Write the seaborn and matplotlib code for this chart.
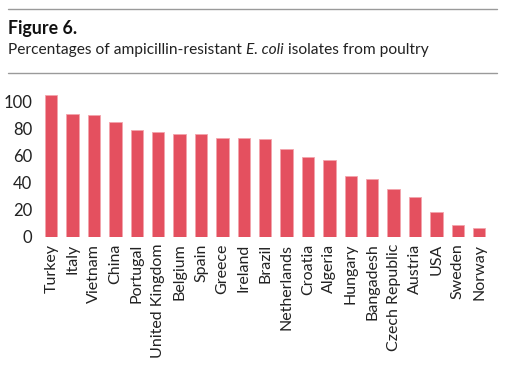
import matplotlib
matplotlib.use('Agg')
import matplotlib.pyplot as plt
import seaborn as sns
import pandas as pd

# data
countries = ['Turkey', 'Italy', 'Vietnam', 'China', 'Portugal', 'United Kingdom',
             'Belgium', 'Spain', 'Greece', 'Ireland', 'Brazil', 'Netherlands',
             'Croatia', 'Algeria', 'Hungary', 'Bangadesh', 'Czech Republic',
             'Austria', 'USA', 'Sweden', 'Norway']
percent = [105, 91, 90, 85, 79, 77.5, 76, 76, 73, 73, 72.5, 65,
           59, 57, 45, 42.5, 35, 29.5, 18.5, 9, 6.5]
yticks = [0, 20, 40, 60, 80, 100]

df = pd.DataFrame({'country': countries, 'pct': percent})

sns.set_style('white')
plt.rcParams['font.family'] = ['Lato', 'DejaVu Sans']

fig = plt.figure(figsize=(5.1, 3.74), dpi=100)
ax = fig.add_axes([0.0796, 0.367, 0.881, 0.397])

sns.barplot(data=df, x='country', y='pct', color='#e4505f', saturation=1,
            width=0.58, edgecolor='#f3a4ac', linewidth=0.6, ax=ax)

ax.set_xlim(-0.5, len(countries) - 0.5)
ax.set_ylim(0, 110)
ax.set_yticks(yticks)
ax.set_yticklabels([str(v) for v in yticks], fontsize=12, color='#222222')
ax.tick_params(axis='x', labelrotation=90, labelsize=11.5, colors='#222222', length=0, pad=5)
ax.tick_params(axis='y', length=0, pad=6)
ax.set_xlabel('')
ax.set_ylabel('')
sns.despine(ax=ax, left=True, bottom=True)

# header: rules, title and subtitle with italic E. coli
fig.add_artist(plt.Line2D([8 / 510, 497 / 510], [1 - 8.5 / 374, 1 - 8.5 / 374],
                          color='#9a9a9a', lw=1))
fig.add_artist(plt.Line2D([8 / 510, 497 / 510], [1 - 72.5 / 374, 1 - 72.5 / 374],
                          color='#9a9a9a', lw=1))
fig.text(8 / 510, 1 - 28.5 / 374, 'Figure 6.', fontsize=12.8, fontweight='bold',
         va='center', ha='left', color='#111111')

renderer = fig.canvas.get_renderer()
x = 8 / 510
ysub = 1 - 50 / 374
parts = [('Percentages of ampicillin-resistant ', 'normal'),
         ('E. coli', 'italic'),
         (' isolates from poultry', 'normal')]
for s, style in parts:
    t = fig.text(x, ysub, s, fontsize=11.2, style=style, va='center', ha='left',
                 color='#222222')
    bb = t.get_window_extent(renderer=renderer)
    x += bb.width / fig.bbox.width

fig.savefig('out.png', dpi=100)
